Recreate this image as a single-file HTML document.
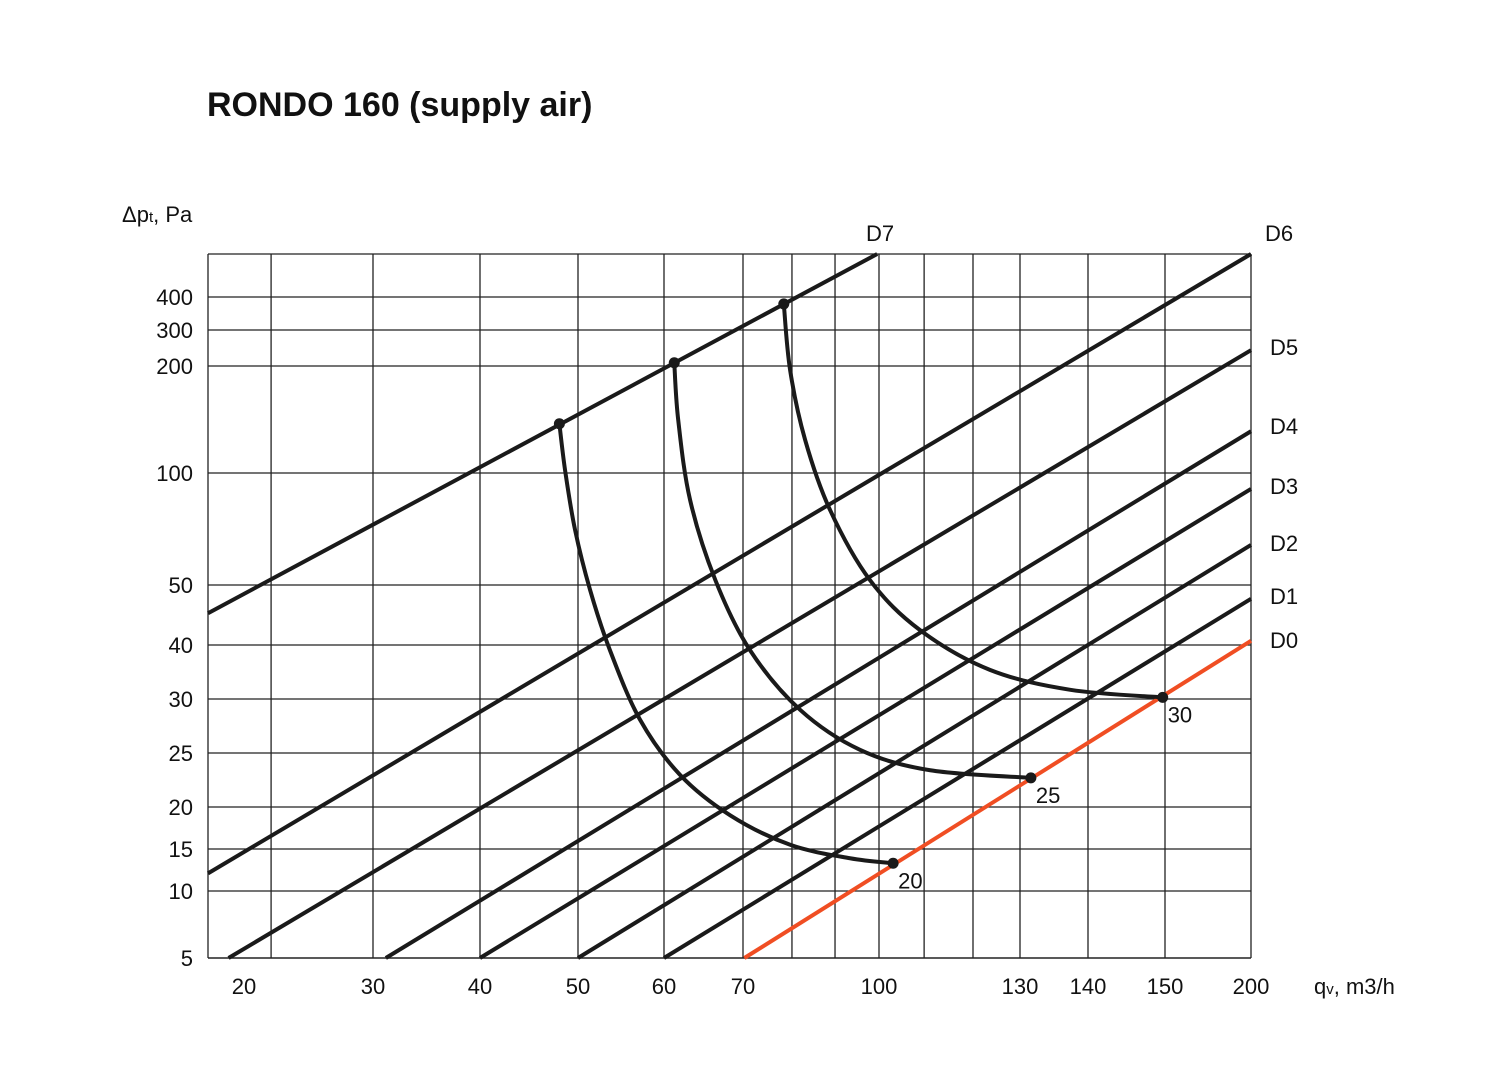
<!DOCTYPE html>
<html><head><meta charset="utf-8"><style>
body{margin:0;background:#fff}
svg{display:block;font-family:"Liberation Sans",sans-serif}
</style></head><body>
<svg id="chart" width="1500" height="1078" viewBox="0 0 1500 1078">
<text x="207" y="116" font-size="34" font-weight="bold" fill="#111">RONDO 160 (supply air)</text>
<text x="122" y="222" font-size="22" fill="#111">Δp<tspan font-size="15">t</tspan>, Pa</text>
<text x="1314" y="994" font-size="22" fill="#111">q<tspan font-size="15">v</tspan>, m3/h</text>
<g id="grid"></g><g id="lines"></g><g id="labels"></g>
</svg>
<script>
// axis calibration (value -> pixel, piecewise)
const xCalV=[17.2,20,30,40,50,60,70,100,130,140,150,200];
const xCalP=[208,244,373,480,578,664,743,879,1020,1088,1165,1251];
const yCalV=[5,10,15,20,25,30,40,50,100,200,300,400,530];
const yCalP=[958,891,849,807,753,699,645,585,473,366,330,297,254];
function interp(v,V,P){for(let i=0;i<V.length-1;i++){if(v<=V[i+1]||i==V.length-2){return P[i]+(v-V[i])/(V[i+1]-V[i])*(P[i+1]-P[i]);}}}
const X=v=>interp(v,xCalV,xCalP), Y=v=>interp(v,yCalV,yCalP);

const xTicks=[20,30,40,50,60,70,100,130,140,150,200];
const xGrid=[17.2,22.1,30,40,50,60,70,80.8,90.3,100,109.6,120,130,140,150,200];
const yTicks=[5,10,15,20,25,30,40,50,100,200,300,400];
const yGrid=[10,15,20,25,30,40,50,100,200,300,400,530];
const lineNames=["D0","D1","D2","D3","D4","D5","D6","D7"];
const lineQ0=[70.3,60,50,40,31.2,18.8,17.2,17.2];
const lineP0=[5,5,5,5,5,5,12.1,45.3];
const lineQ1=[200,200,200,200,200,200,200,99.6];
const lineP1=[40.7,47.7,67.9,92.9,139,244,530,530];
const curveNames=["20","25","30"];
const curveQ=[[48.1,48.7,49.7,51.4,53.7,57.2,62.0,68.4,80.4,93.6,103],
 [61.3,61.8,63.3,66.5,71.5,82.6,95.8,110.9,131.6],
 [79,80.4,83.7,89.2,98,108.7,123.6,137.4,149.7]];
const curveP=[[146,101.4,74.6,49.2,39.1,28.1,23.0,19.0,15.5,13.9,13.3],
 [209,149.5,88,52.2,39.1,29,25.3,23.4,22.7],
 [379,196,131,83.5,52.2,42.5,35.4,31.7,30.3]];

const NS="http://www.w3.org/2000/svg";
function mk(t,a,parent){const e=document.createElementNS(NS,t);for(const k in a)e.setAttribute(k,a[k]);parent.appendChild(e);return e;}
const grid=document.getElementById('grid'),lines=document.getElementById('lines'),labels=document.getElementById('labels');
const x0=X(17.2),x1=X(200),y0=Y(5),y1=Y(530);
xGrid.forEach(v=>{const e=mk('line',{x1:X(v),x2:X(v),y1:y1,y2:y0,stroke:'#222','stroke-width':1.3},grid);

});
yGrid.forEach(v=>{const e=mk('line',{x1:x0,x2:x1,y1:Y(v),y2:Y(v),stroke:'#222','stroke-width':1.3},grid);

});
const bl=mk('line',{x1:x0,x2:x1,y1:y0,y2:y0,stroke:'#222','stroke-width':1.5},grid);


xTicks.forEach(v=>{const t=mk('text',{x:X(v),y:994,'font-size':22,'text-anchor':'middle',fill:'#111'},labels);t.textContent=v;

});
yTicks.forEach(v=>{const t=mk('text',{x:193,y:Y(v)+8,'font-size':22,'text-anchor':'end',fill:'#111'},labels);t.textContent=v;

});
const dLabelPos={D0:[1270,648],D1:[1270,604],D2:[1270,551],D3:[1270,494],D4:[1270,434],D5:[1270,355],D6:[1265,241],D7:[866,241]};
lineNames.forEach((n,i)=>{const l=mk('line',{x1:X(lineQ0[i]),y1:Y(lineP0[i]),x2:X(lineQ1[i]),y2:Y(lineP1[i]),stroke:n==='D0'?'#f04e23':'#1a1a1a','stroke-width':4},lines);


const t=mk('text',{x:dLabelPos[n][0],y:dLabelPos[n][1],'font-size':22,fill:'#111'},labels);t.textContent=n;

});
curveNames.forEach((n,c)=>{const pts=curveQ[c].map((q,i)=>[X(q),Y(curveP[c][i])]);
let d='M'+pts[0][0]+','+pts[0][1];
for(let i=0;i<pts.length-1;i++){const p0=pts[Math.max(0,i-1)],p1=pts[i],p2=pts[i+1],p3=pts[Math.min(pts.length-1,i+2)];
d+=' C'+(p1[0]+(p2[0]-p0[0])/6)+','+(p1[1]+(p2[1]-p0[1])/6)+' '+(p2[0]-(p3[0]-p1[0])/6)+','+(p2[1]-(p3[1]-p1[1])/6)+' '+p2[0]+','+p2[1];}
const p=mk('path',{d:d,fill:'none',stroke:'#1a1a1a','stroke-width':4},lines);


[pts[0],pts[pts.length-1]].forEach(pt=>{const e=mk('circle',{cx:pt[0],cy:pt[1],r:5.5,fill:'#1a1a1a'},lines);

});
const last=pts[pts.length-1];
const t=mk('text',{x:last[0]+5,y:last[1]+25,'font-size':22,fill:'#111'},labels);t.textContent=n;

});
</script>
</body></html>
